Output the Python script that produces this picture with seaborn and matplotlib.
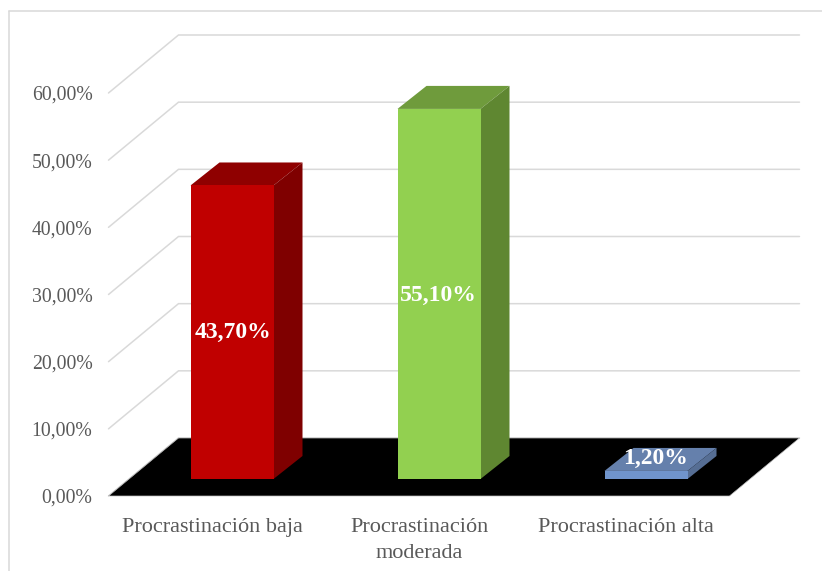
import matplotlib
matplotlib.use("Agg")
import matplotlib.pyplot as plt
from matplotlib.lines import Line2D
from matplotlib.patches import Polygon
import pandas as pd
import seaborn as sns

categories = ["Procrastinación baja", "Procrastinación\nmoderada", "Procrastinación alta"]
values = [43.7, 55.1, 1.2]
value_labels = ["43,70%", "55,10%", "1,20%"]
tick_values = [0, 10, 20, 30, 40, 50, 60]
tick_labels = ["0,00%", "10,00%", "20,00%", "30,00%", "40,00%", "50,00%", "60,00%"]
front_colors = ["#C00000", "#92D050", "#7094CC"]
top_colors = ["#8F0000", "#6F9B3C", "#6580AC"]
side_colors = ["#7F0000", "#5F8731", "#566E94"]

W, H = 822, 571
sns.set_theme(style="white")
plt.rcParams["font.family"] = ["Liberation Serif", "DejaVu Serif"]
fig = plt.figure(figsize=(W / 100, H / 100), dpi=100, facecolor="white")

GRID = "#D9D9D9"
TEXT = "#595959"
px_y = 403 / 60
px_x = 207.0


def axes_px(left, right, y0, y60):
    return fig.add_axes([left / W, (H - y0) / H, (right - left) / W, (y0 - y60) / H])


# base axes: holds the ticks, the walls and the floor
ax = axes_px(108.5, 729.5, 496, 93)
ax.set_xlim(-0.5, 2.5)
ax.set_ylim(0, 60)
ax.set_facecolor("none")
for s in ax.spines.values():
    s.set_visible(False)
ax.set_xticks(range(len(categories)), categories, fontsize=16, color=TEXT, linespacing=1.45)
ax.set_yticks(tick_values, tick_labels, fontsize=14.2, color=TEXT)
ax.tick_params(axis="y", length=0, pad=11.5)
ax.tick_params(axis="x", length=0, pad=16)

# wall depth expressed in axis units
dx = 70 / px_x
dy = 58 / px_y
for v in tick_values:
    ax.plot([-0.5, -0.5 + dx, 2.5 + dx], [v, v + dy, v + dy], color=GRID, lw=1.1,
            clip_on=False, zorder=1, solid_joinstyle="miter")
ax.add_patch(Polygon([(-0.5, 0), (2.5, 0), (2.5 + dx, dy), (-0.5 + dx, dy)], closed=True,
                     facecolor="black", edgecolor="#BFBFBF", lw=0.5, clip_on=False, zorder=2))

# bar axes: same scales, moved into the middle of the floor depth
ax_b = axes_px(128.5, 749.5, 479, 76)
df = pd.DataFrame({"cat": categories, "val": values})
sns.barplot(data=df, x="cat", y="val", hue="cat", palette=front_colors, order=categories,
            hue_order=categories, width=83 / px_x, legend=False, saturation=1, ax=ax_b, zorder=5,
            edgecolor="none", linewidth=0)
ax_b.set_xlim(-0.5, 2.5)
ax_b.set_ylim(0, 60)
ax_b.axis("off")
ax_b.patch.set_alpha(0)

bdx = 29 / px_x
bdy = 23 / px_y
nudges = [(1, 0), (-1, -1), (10, 17)]
for bar, top_c, side_c, txt, nudge in zip(ax_b.patches, top_colors, side_colors, value_labels, nudges):
    x0, w, h = bar.get_x(), bar.get_width(), bar.get_height()
    x1 = x0 + w
    ax_b.add_patch(Polygon([(x0, h), (x1, h), (x1 + bdx, h + bdy), (x0 + bdx, h + bdy)], closed=True,
                           facecolor=top_c, edgecolor="none", clip_on=False, zorder=4))
    ax_b.add_patch(Polygon([(x1, 0), (x1 + bdx, bdy), (x1 + bdx, h + bdy), (x1, h)], closed=True,
                           facecolor=side_c, edgecolor="none", clip_on=False, zorder=4))
    ax_b.annotate(txt, (x0 + w / 2, h / 2), xytext=nudge, textcoords="offset pixels",
                  ha="center", va="center", color="white", fontweight="bold", fontsize=17,
                  annotation_clip=False, zorder=6)

# chart frame
for xs, ys in [((8.5, 8.5), (H, 10.5)), ((8.5, W), (10.5, 10.5))]:
    fig.add_artist(Line2D([x / W for x in xs], [1 - y / H for y in ys], color=GRID, lw=1.1))

fig.savefig("out.png", dpi=100)
